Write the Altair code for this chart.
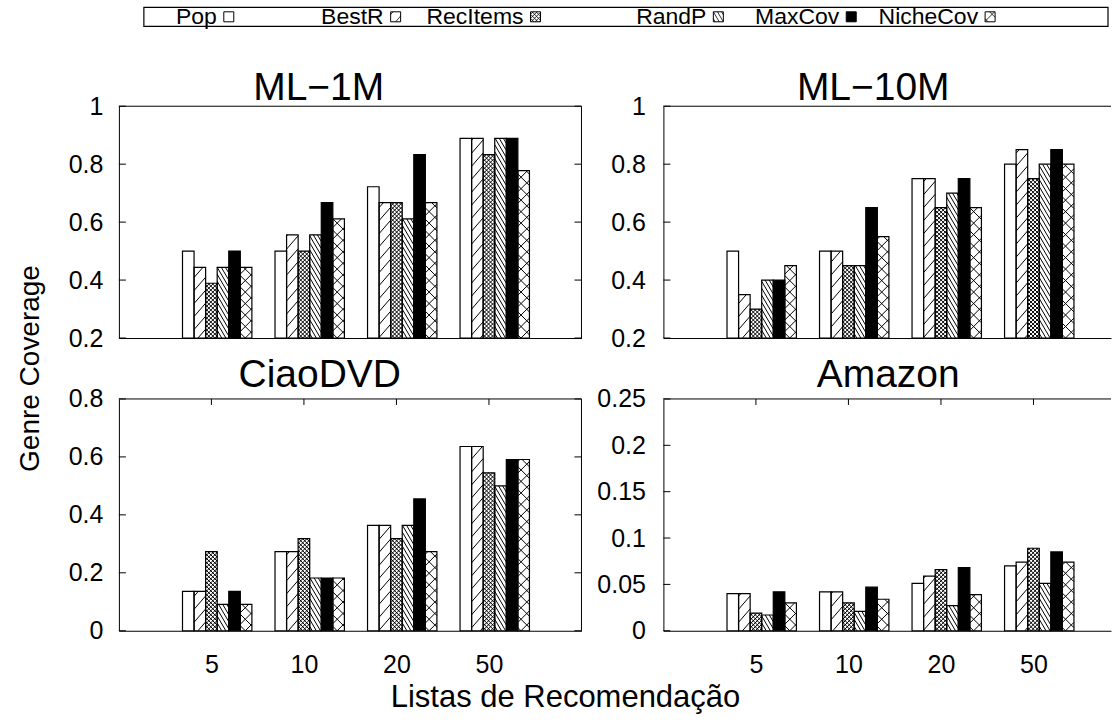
import math

import altair as alt
import pandas as pd

LISTS = ["5", "10", "20", "50"]
METHODS = ["Pop", "BestR", "RecItems", "RandP", "MaxCov", "NicheCov"]

# genre coverage: one row per method, one column per list size
ML1M = [
    [0.500, 0.500, 0.722, 0.889],
    [0.444, 0.556, 0.667, 0.889],
    [0.389, 0.500, 0.667, 0.833],
    [0.444, 0.556, 0.611, 0.889],
    [0.500, 0.667, 0.833, 0.889],
    [0.444, 0.611, 0.667, 0.778],
]
ML10M = [
    [0.50, 0.50, 0.75, 0.80],
    [0.35, 0.50, 0.75, 0.85],
    [0.30, 0.45, 0.65, 0.75],
    [0.40, 0.45, 0.70, 0.80],
    [0.40, 0.65, 0.75, 0.85],
    [0.45, 0.55, 0.65, 0.80],
]
CIAODVD = [
    [0.136, 0.273, 0.364, 0.636],
    [0.136, 0.273, 0.364, 0.636],
    [0.273, 0.318, 0.318, 0.545],
    [0.091, 0.182, 0.364, 0.500],
    [0.136, 0.182, 0.455, 0.591],
    [0.091, 0.182, 0.273, 0.591],
]
AMAZON = [
    [0.040, 0.042, 0.051, 0.070],
    [0.040, 0.042, 0.059, 0.074],
    [0.019, 0.030, 0.066, 0.089],
    [0.017, 0.021, 0.027, 0.051],
    [0.042, 0.047, 0.068, 0.085],
    [0.030, 0.034, 0.039, 0.074],
]

TICKS_ML = [0.2, 0.4, 0.6, 0.8, 1.0]
TICKS_CIAO = [0, 0.2, 0.4, 0.6, 0.8]
TICKS_AMAZON = [0, 0.05, 0.1, 0.15, 0.2, 0.25]

# ---- styling -------------------------------------------------------------
FONT = "Liberation Sans"
FILLS = ["white", "white", "white", "white", "black", "white"]
# hatch families per method: (slope in screen space, vertical spacing in px)
HATCH = [
    [],
    [(1.15, 13.0)],
    [(1.0, 4.0), (-1.0, 4.0)],
    [(-1.7, 7.0)],
    [],
    [(1.0, 11.5), (-1.0, 11.5)],
]

X_MIN = -1.0
CAT_PX = 92.6          # pixels between two list sizes
LEFT_W, RIGHT_W, PANEL_H = 463, 448, 232
COL_GAP, ROW_GAP = 82, 61
BAR_W = 0.125
TICK_FS, TITLE_FS, YTITLE_FS, XTITLE_FS, LEG_FS = 25, 39, 28, 31, 23
# legend swatch left edges, relative to the top-left plot area
LEG_SWATCH_X = [105, 272, 412, 595, 728, 867]


def hatch_segments(x0, x1, y0, y1, families):
    """Clip families of parallel lines (screen space, y up) to a rectangle."""
    segs = []
    for slope, gap in families:
        corners = [y0 - slope * x0, y0 - slope * x1, y1 - slope * x0, y1 - slope * x1]
        for k in range(math.ceil(min(corners) / gap), math.floor(max(corners) / gap) + 1):
            c = k * gap
            a, b = (y0 - c) / slope, (y1 - c) / slope
            lo, hi = max(min(a, b), x0), min(max(a, b), x1)
            if hi - lo > 1e-6:
                segs.append((lo, slope * lo + c, hi, slope * hi + c))
    return segs


LABEL_EXPR = "[" + ",".join("'%s'" % s for s in LISTS) + "][datum.value]"


def panel(name, rows, ymin, ymax, yticks, width, is_left, is_bottom, title_dx, title_dy):
    xmax = X_MIN + width / CAT_PX
    sy = PANEL_H / (ymax - ymin)
    xs = alt.Scale(domain=[X_MIN, xmax], nice=False, zero=False)
    ys = alt.Scale(domain=[ymin, ymax], nice=False, zero=False)
    if is_bottom:
        xaxis = alt.Axis(values=list(range(len(LISTS))), labelExpr=LABEL_EXPR, ticks=False,
                         domain=True, grid=False, title=None, labelFontSize=TICK_FS,
                         labelPadding=22, labelFlush=False, labelOverlap=False)
    else:
        xaxis = alt.Axis(labels=False, ticks=False, domain=True, grid=False, title=None)
    yaxis = alt.Axis(values=yticks, format="~g", ticks=False, domain=True, grid=False,
                     title=None, labelFontSize=TICK_FS, labelPadding=16 if is_left else 18,
                     labelFlush=False, labelOverlap=False)

    def X(f):
        return alt.X(f, type="quantitative", scale=xs, axis=xaxis)

    def Y(f):
        return alt.Y(f, type="quantitative", scale=ys, axis=yaxis)

    bars, hatch = [], []
    for i, m in enumerate(METHODS):
        for j, v in enumerate(rows[i]):
            left = j + (i - 2.5) * BAR_W
            bars.append({"method": m, "x0": left, "x1": left + BAR_W, "v": v, "base": ymin})
            segs = hatch_segments((left - X_MIN) * CAT_PX, (left + BAR_W - X_MIN) * CAT_PX,
                                  0.0, (v - ymin) * sy, HATCH[i])
            for a, b, c, d in segs:
                hatch.append({"hx": X_MIN + a / CAT_PX, "hy": ymin + b / sy,
                              "hx2": X_MIN + c / CAT_PX, "hy2": ymin + d / sy})
    bars = pd.DataFrame(bars)
    hatch = pd.DataFrame(hatch)

    fill = alt.Chart(bars).mark_rect(strokeWidth=0).encode(
        x=X("x0"), x2="x1", y=Y("v"), y2="base",
        fill=alt.Fill("method:N", scale=alt.Scale(domain=METHODS, range=FILLS), legend=None),
    )
    lines = alt.Chart(hatch).mark_rule(color="black", strokeWidth=1).encode(
        x=X("hx"), x2="hx2", y=Y("hy"), y2="hy2")
    outline = alt.Chart(bars).mark_rect(fill="transparent", stroke="black", strokeWidth=1.2).encode(
        x=X("x0"), x2="x1", y=Y("v"), y2="base")

    tick_len_x = 7 / CAT_PX
    lt = pd.DataFrame({"t": yticks, "a": X_MIN, "b": X_MIN + tick_len_x})
    layers = [fill, lines, outline,
              alt.Chart(lt).mark_rule(color="black", strokeWidth=1).encode(
                  x=X("a"), x2="b", y=Y("t"))]

    top = pd.DataFrame({"a": [X_MIN], "b": [xmax], "y": [ymax]})
    layers.append(alt.Chart(top).mark_rule(color="black", strokeWidth=1).encode(
        x=X("a"), x2="b", y=Y("y")))
    if is_left:
        rt = pd.DataFrame({"t": yticks, "a": xmax - tick_len_x, "b": xmax})
        layers.append(alt.Chart(rt).mark_rule(color="black", strokeWidth=1).encode(
            x=X("a"), x2="b", y=Y("t")))
        rb = pd.DataFrame({"x": [xmax], "a": [ymin], "b": [ymax]})
        layers.append(alt.Chart(rb).mark_rule(color="black", strokeWidth=1).encode(
            x=X("x"), y=Y("a"), y2="b"))
    if is_bottom:
        xt = pd.DataFrame({"c": list(range(len(LISTS))), "a": ymax, "b": ymax - 6 / sy})
        layers.append(alt.Chart(xt).mark_rule(color="black", strokeWidth=1).encode(
            x=X("c"), y=Y("a"), y2="b"))

    layers.append(alt.Chart(pd.DataFrame({"t": [name]})).mark_text(
        fontSize=TITLE_FS, align="center", baseline="alphabetic", color="black").encode(
        text="t:N", x=alt.value(title_dx), y=alt.value(title_dy)))
    return layers, width


def legend_layers():
    box = pd.DataFrame({"x0": [25], "x1": [990], "y0": [-99], "y1": [-80]})
    layers = [alt.Chart(box).mark_rect(fill="transparent", stroke="black", strokeWidth=1.2).encode(
        x=alt.X("x0:Q", scale=None, axis=None), x2="x1:Q",
        y=alt.Y("y0:Q", scale=None, axis=None), y2="y1:Q")]
    size, ytop = 10, -94.5
    entries, segs = [], []
    for i, m in enumerate(METHODS):
        sx0 = LEG_SWATCH_X[i]
        entries.append({"method": m, "tx": sx0 - 7, "ty": ytop + size / 2,
                        "sx0": sx0, "sx1": sx0 + size, "sy0": ytop, "sy1": ytop + size})
        for a, b, c, d in hatch_segments(sx0, sx0 + size, -(ytop + size), -ytop, HATCH[i]):
            segs.append({"a": a, "b": -b, "c": c, "d": -d})
    entries = pd.DataFrame(entries)
    segs = pd.DataFrame(segs)
    layers.append(alt.Chart(entries).mark_text(
        fontSize=LEG_FS, align="right", baseline="middle", color="black").encode(
        text="method:N", x=alt.X("tx:Q", scale=None, axis=None), y=alt.Y("ty:Q", scale=None, axis=None)))
    layers.append(alt.Chart(entries).mark_rect(strokeWidth=0).encode(
        x=alt.X("sx0:Q", scale=None, axis=None), x2="sx1:Q",
        y=alt.Y("sy0:Q", scale=None, axis=None), y2="sy1:Q",
        fill=alt.Fill("method:N", scale=alt.Scale(domain=METHODS, range=FILLS), legend=None)))
    layers.append(alt.Chart(segs).mark_rule(color="black", strokeWidth=0.8).encode(
        x=alt.X("a:Q", scale=None, axis=None), x2="c:Q",
        y=alt.Y("b:Q", scale=None, axis=None), y2="d:Q"))
    layers.append(alt.Chart(entries).mark_rect(fill="transparent", stroke="black", strokeWidth=1).encode(
        x=alt.X("sx0:Q", scale=None, axis=None), x2="sx1:Q",
        y=alt.Y("sy0:Q", scale=None, axis=None), y2="sy1:Q"))
    return layers


one = pd.DataFrame({"t": [""]})

tl, w_tl = panel("ML\u22121M", ML1M, 0.2, 1.0, TICKS_ML, LEFT_W, True, False, 200, -6)
tl += legend_layers()
tl.append(alt.Chart(pd.DataFrame({"t": ["Genre Coverage"]})).mark_text(
    fontSize=YTITLE_FS, angle=270, align="center", baseline="middle", color="black").encode(
    text="t:N", x=alt.value(-88), y=alt.value(PANEL_H + ROW_GAP / 2)))
# keeps the top-left corner of the page as the drawing origin
tl.append(alt.Chart(one).mark_rule(opacity=0, strokeWidth=0).encode(
    x=alt.value(-118), x2=alt.value(-117), y=alt.value(-105)))

tr, w_tr = panel("ML\u221210M", ML10M, 0.2, 1.0, TICKS_ML, RIGHT_W, False, False, 210, -6)
bl, w_bl = panel("CiaoDVD", CIAODVD, 0.0, 0.8, TICKS_CIAO, LEFT_W, True, True, 201, -12)
bl.append(alt.Chart(pd.DataFrame({"t": ["Listas de Recomenda\u00e7\u00e3o"]})).mark_text(
    fontSize=XTITLE_FS, align="center", baseline="middle", color="black").encode(
    text="t:N", x=alt.value(447), y=alt.value(299)))
br, w_br = panel("Amazon", AMAZON, 0.0, 0.25, TICKS_AMAZON, RIGHT_W, False, True, 225, -12)


def build(layers, width):
    return alt.layer(*layers).properties(width=width, height=PANEL_H)


chart = alt.concat(
    build(tl, w_tl), build(tr, w_tr), build(bl, w_bl), build(br, w_br),
    columns=2, spacing=alt.RowColnumber(row=ROW_GAP, column=COL_GAP), bounds="flush",
).properties(padding=0, background="white").configure(font=FONT).configure_view(
    stroke="transparent"
).configure_axis(
    labelFont=FONT, labelColor="black", domainColor="black", domainWidth=1
).configure_text(font=FONT)

chart.save("out.html", embed_options={"renderer": "svg", "actions": False})
